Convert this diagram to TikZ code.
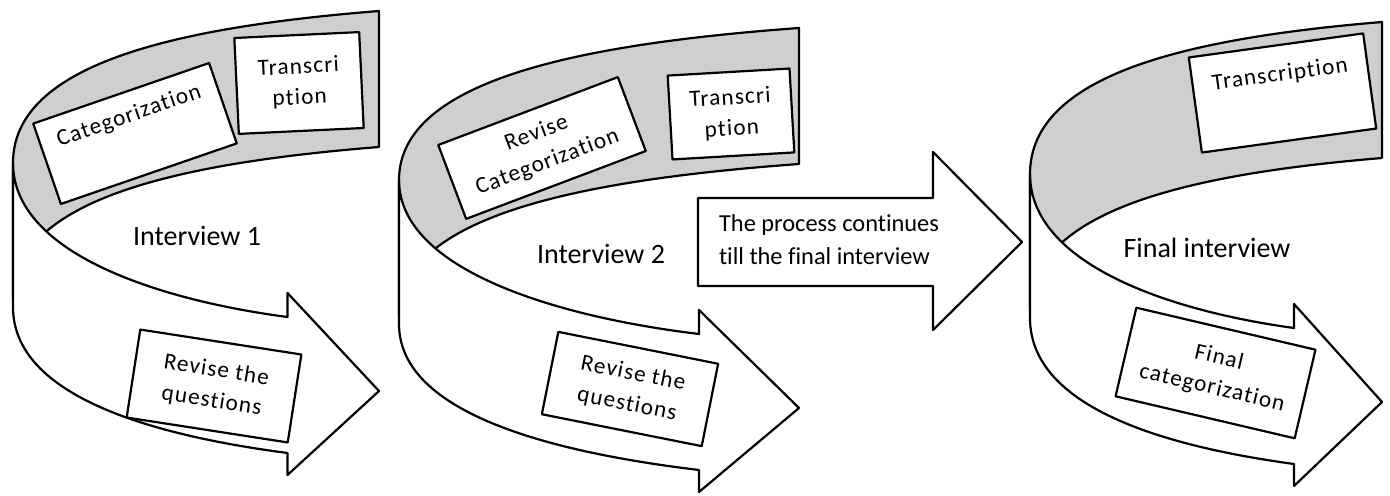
\documentclass[tikz,border=0pt]{standalone}
\usepackage{fontspec}
\setmainfont{Carlito}[Ligatures=NoCommon]
\newfontfamily\boxfont[LetterSpace=5,Ligatures=NoCommon]{Carlito}
\definecolor{bandgray}{RGB}{207,207,207}
% curved ribbon arrow: #1 left x, #2 width, #3 top y
\newcommand{\ribbon}[3]{%
  \begin{scope}[shift={(#1,#3)}]
    \draw[band,fill=bandgray] (#2,0) .. controls ({0.454*#2},16) and (0,52) .. (0,152)
      -- (0,288) .. controls (0,188) and ({0.454*#2},152) .. (#2,136) -- cycle;
    \draw[band,fill=white] (0,152) .. controls (0,242) and ({0.396*#2},289) .. ({0.75*#2},306)
      -- ({0.75*#2},282) -- (#2,380) -- ({0.75*#2},464) -- ({0.75*#2},442)
      .. controls ({0.396*#2},425) and (0,387) .. (0,296) -- cycle;
  \end{scope}}
\begin{document}
\begin{tikzpicture}[x=0.5pt,y=-0.5pt,line join=round,
    band/.style={draw,line width=1.1pt},
    txtbox/.style={draw,fill=white,line width=1.1pt,inner sep=0pt,align=center,
      font=\boxfont\fontsize{11.6}{15.5}\selectfont},
    lbl/.style={font=\fontsize{14}{16}\selectfont}]
  \useasboundingbox (0,0) rectangle (1390,496);
  \ribbon{13}{366}{11}
  \ribbon{399}{400}{28}
  % block arrow
  \draw[band,fill=white] (698,198) -- (933,198) -- (933,152) -- (1022,242)
    -- (933,330) -- (933,286) -- (698,286) -- cycle;
  \node[align=left,font=\fontsize{12.2}{16.5}\selectfont] (proc) at (829,240)
    {The process continues\\till the final interview};
  \ribbon{1030}{352}{22}
  % interview 1
  \node[txtbox,rotate=19,minimum width=93pt,minimum height=42.5pt] (cat1) at (135,133.5) {Categorization\\\strut};
  \node[txtbox,rotate=2.7,minimum width=62.5pt,minimum height=48pt] (tr1) at (299,83) {Transcri\\ption};
  \node[txtbox,rotate=-8.8,minimum width=81.5pt,minimum height=44.5pt] (rev1) at (214,386) {Revise the\\questions};
  \node[lbl] (int1) at (197,236) {Interview 1};
  % interview 2
  \node[txtbox,rotate=20.7,minimum width=96pt,minimum height=39.5pt] (cat2) at (542,148) {Revise\\Categorization};
  \node[txtbox,rotate=3.3,minimum width=61pt,minimum height=42pt] (tr2) at (731,114) {Transcri\\ption};
  \node[txtbox,rotate=-11.3,minimum width=81.5pt,minimum height=42pt] (rev2) at (630,389) {Revise the\\questions};
  \node[lbl] (int2) at (601,254) {Interview 2};
  % final interview
  \node[txtbox,rotate=7.85,minimum width=88pt,minimum height=48pt] (tr3) at (1282.5,93) {Transcription\\\strut};
  \node[txtbox,rotate=-13.2,minimum width=92pt,minimum height=45.5pt] (cat3) at (1215.5,373) {Final\\categorization};
  \node[lbl] (int3) at (1207,248) {Final interview};
\end{tikzpicture}
\end{document}
